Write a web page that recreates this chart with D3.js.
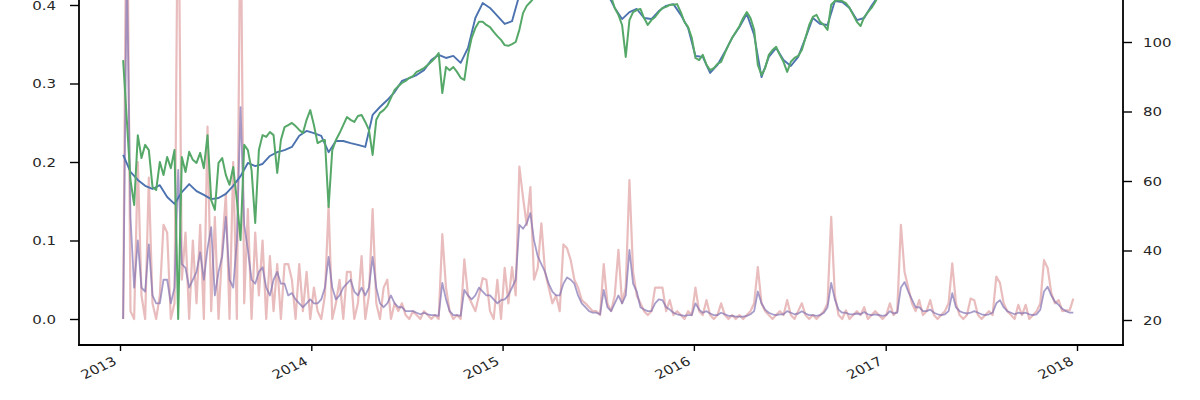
<!DOCTYPE html>
<html>
<head>
<meta charset="utf-8">
<script src="https://cdn.jsdelivr.net/npm/d3@7"></script>
<style>
  body { margin: 0; background: #fff; }
  svg { display: block; }
  .tick text { font-family: "DejaVu Sans", sans-serif; font-size: 12.5px; fill: #262626; }
</style>
</head>
<body>
<div id="chart"></div>
<script>
// weekly series start here; blue is sampled every 2 weeks
const startDate = new Date(Date.UTC(2013, 0, 7));

// price-like series (right axis)
const blueVals = [
  67.5, 62.6, 60.3, 58.6, 57.7, 58.8, 55.4, 53.4, 56.8, 59.1,
  57.1, 56.0, 54.8, 55.1, 56.3, 58.6, 61.4, 65.2, 64.3, 64.9,
  67.2, 68.3, 68.9, 69.8, 73.0, 74.4, 73.8, 73.0, 68.3, 71.5,
  71.5, 70.9, 70.4, 69.8, 79.0, 81.3, 83.3, 85.6, 88.8, 89.6,
  90.5, 91.9, 94.8, 96.3, 95.4, 96.0, 94.0, 98.3, 106.9, 111.2,
  109.8, 107.5, 105.2, 106.0, 113.5, 115, 117, 119, 120, 121,
  120, 119, 120, 118, 117, 116, 114, 109.8, 106.6, 108.6,
  109.5, 106.9, 106.6, 108.9, 110.4, 110.9, 107.8, 104.0, 96.0, 95.7,
  91.1, 93.4, 97.1, 101.2, 104.3, 108.1, 102.0, 89.9, 95.7, 98.3,
  94.8, 93.1, 95.7, 101.2, 106.9, 105.2, 104.9, 111.8, 111.5, 109.8,
  106.3, 106.9, 110.4, 113.5, 115, 117, 118, 120, 121, 122,
  121, 123, 124, 125, 124, 126, 127, 128, 127, 129,
  130, 131, 130, 132, 133, 134, 133, 135, 136, 137
];

const greenVals = [
  94.8, 77.6, 60.3, 53.1, 73.2, 66.6, 70.4, 68.9, 58.3, 57.4,
  65.5, 61.7, 66.9, 63.7, 68.9, 20.3, 66.9, 62.6, 68.4, 66.1,
  65.2, 68.1, 63.7, 73.2, 54.5, 51.7, 65.2, 66.6, 61.7, 58.9,
  64.0, 54.5, 43.0, 70.4, 68.9, 63.2, 47.9, 68.9, 73.2, 72.7,
  74.1, 73.2, 62.3, 71.8, 75.5, 76.1, 76.7, 75.8, 74.7, 73.8,
  77.6, 80.4, 76.1, 70.9, 71.5, 71.8, 52.5, 68.9, 71.8, 73.8,
  76.1, 78.4, 77.6, 77.0, 78.7, 79.0, 77.0, 74.7, 67.5, 77.6,
  79.6, 80.4, 81.6, 83.9, 86.2, 87.3, 88.2, 88.8, 89.7, 90.2,
  91.4, 91.9, 92.5, 93.4, 94.3, 95.4, 96.8, 85.3, 92.8, 91.9,
  92.8, 91.4, 89.7, 89.1, 96.3, 101.2, 104.0, 105.8, 105.8, 104.9,
  104.3, 102.9, 101.7, 100.6, 99.1, 98.9, 99.4, 100.0, 103.5, 108.3,
  110.4, 111.5, 112.7, 113.5,
  115, 117, 118, 120, 121, 122, 121, 120, 119, 121,
  122, 120, 118, 117, 116, 118, 117, 116, 115, 113,
  109.8, 107.8, 104.9, 95.7, 106.3, 108.6, 109.2, 109.5, 106.9, 104.9,
  106.3, 107.2, 108.6, 109.8, 110.1, 110.7, 110.7, 110.9, 108.6, 105.8,
  104.3, 101.2, 95.4, 94.8, 96.3, 93.4, 91.9, 92.5, 93.7, 94.3,
  96.8, 99.1, 101.2, 102.9, 104.6, 106.9, 108.6, 106.9, 103.5, 93.4,
  90.5, 92.5, 96.3, 97.7, 98.6, 96.3, 94.3, 91.4, 94.3, 95.4,
  96.0, 97.7, 101.2, 104.9, 107.2, 107.8, 105.8, 104.9, 103.5, 110.7,
  111.8, 112.1, 111.8, 111.2, 109.8, 107.8, 105.8, 104.6, 107.2, 108.6,
  109.8, 111.5,
  113.5, 115, 116, 118, 119, 120, 121, 121, 122, 123,
  122, 121, 122, 124, 125, 126, 125, 124, 126, 127,
  128, 127, 126, 128, 129, 130, 129, 128, 130, 131,
  132, 131, 130, 132, 133, 134, 133, 132, 134, 135,
  136, 135, 134, 136, 137, 138, 137, 136, 138, 139,
  140, 139, 138, 139
];

// ratio series (left axis)
const pinkVals = [
  0, 0.62, 0.01, 0, 0.2, 0.03, 0, 0.18, 0.02, 0,
  0.03, 0.12, 0.11, 0, 0.02, 0.6, 0.05, 0.11, 0, 0.1,
  0.02, 0.12, 0, 0.245, 0.01, 0.13, 0, 0.09, 0.16, 0,
  0.2, 0, 0.55, 0.02, 0.14, 0, 0.11, 0.03, 0.1, 0,
  0.08, 0.01, 0.07, 0, 0.07, 0.07, 0.05, 0, 0.07, 0.01,
  0.06, 0, 0.04, 0.01, 0, 0.03, 0.145, 0, 0.02, 0.05,
  0, 0.06, 0.06, 0, 0.02, 0.08, 0, 0.03, 0.14, 0.02,
  0, 0.04, 0.05, 0, 0.02, 0.01, 0.02, 0.005, 0, 0.01,
  0.005, 0, 0.01, 0.005, 0, 0.005, 0, 0.108, 0.04, 0.01,
  0, 0.005, 0, 0.076, 0.03, 0.02, 0.01, 0.03, 0.052, 0.05,
  0.01, 0, 0.05, 0, 0.065, 0.02, 0.066, 0.03, 0.194, 0.155,
  0.12, 0.168, 0.05, 0.065, 0.122, 0.06, 0.04, 0.02, 0.03, 0.01,
  0.095, 0.09, 0.075, 0.05, 0.04, 0.024, 0.02, 0.015, 0.01, 0.01,
  0.005, 0.07, 0.02, 0.01, 0.03, 0.088, 0.02, 0.04, 0.177, 0.06,
  0.03, 0.02, 0.01, 0.005, 0.01, 0.04, 0.04, 0.04, 0.01, 0.024,
  0.005, 0.01, 0.005, 0, 0.01, 0.005, 0.04, 0.01, 0.005, 0.024,
  0.005, 0, 0.005, 0.02, 0.005, 0, 0.005, 0, 0.005, 0,
  0.005, 0.01, 0.02, 0.066, 0.02, 0.01, 0.005, 0, 0.005, 0.01,
  0.005, 0.024, 0.005, 0, 0.01, 0.02, 0.005, 0, 0.005, 0,
  0.005, 0.01, 0.02, 0.13, 0.03, 0.005, 0, 0.011, 0, 0.005,
  0.01, 0.005, 0.015, 0, 0.005, 0.01, 0.005, 0, 0.005, 0.02,
  0.005, 0.01, 0.12, 0.06, 0.04, 0.02, 0.01, 0.024, 0.005, 0.01,
  0.024, 0.005, 0, 0.005, 0.01, 0.02, 0.071, 0.02, 0.005, 0,
  0.005, 0.026, 0.024, 0.005, 0, 0.005, 0.01, 0.005, 0.054, 0.046,
  0.02, 0.01, 0.005, 0, 0.018, 0.005, 0.018, 0, 0.005, 0.01,
  0.02, 0.075, 0.065, 0.033, 0.02, 0.024, 0.01, 0.011, 0.011, 0.026
];

const purpleVals = [
  0, 0.45, 0.13, 0.04, 0.1, 0.04, 0.035, 0.095, 0.03, 0.02,
  0.02, 0.05, 0.05, 0.02, 0.04, 0.19, 0.07, 0.065, 0.04, 0.05,
  0.06, 0.085, 0.05, 0.09, 0.117, 0.03, 0.06, 0.08, 0.13, 0.05,
  0.04, 0.1, 0.27, 0.12, 0.088, 0.05, 0.045, 0.06, 0.066, 0.04,
  0.03, 0.05, 0.06, 0.045, 0.045, 0.03, 0.033, 0.025, 0.02, 0.015,
  0.02, 0.025, 0.02, 0.02, 0.025, 0.04, 0.079, 0.04, 0.025, 0.03,
  0.04, 0.045, 0.05, 0.035, 0.03, 0.04, 0.03, 0.04, 0.079, 0.04,
  0.02, 0.015, 0.02, 0.03, 0.02, 0.015, 0.015, 0.01, 0.01, 0.01,
  0.008, 0.006, 0.008, 0.006, 0.005, 0.005, 0.004, 0.046, 0.025, 0.01,
  0.005, 0.005, 0.004, 0.037, 0.03, 0.025, 0.03, 0.04, 0.035, 0.03,
  0.03, 0.025, 0.02, 0.024, 0.025, 0.03, 0.04, 0.05, 0.12, 0.115,
  0.122, 0.135, 0.1, 0.08, 0.07, 0.06, 0.045, 0.035, 0.03, 0.03,
  0.045, 0.053, 0.05, 0.045, 0.03, 0.02, 0.015, 0.01, 0.008, 0.008,
  0.006, 0.037, 0.015, 0.01, 0.02, 0.03, 0.02, 0.03, 0.088, 0.045,
  0.035, 0.015, 0.012, 0.01, 0.01, 0.02, 0.025, 0.024, 0.015, 0.012,
  0.008, 0.006, 0.005, 0.004, 0.005, 0.005, 0.02, 0.012, 0.008, 0.01,
  0.007, 0.005, 0.005, 0.008, 0.006, 0.004, 0.004, 0.003, 0.003, 0.003,
  0.004, 0.006, 0.01, 0.035, 0.02, 0.012, 0.008, 0.006, 0.005, 0.006,
  0.006, 0.01, 0.008, 0.006, 0.007, 0.01, 0.007, 0.005, 0.005, 0.004,
  0.005, 0.008, 0.015, 0.046, 0.025, 0.012, 0.008, 0.008, 0.006, 0.006,
  0.007, 0.006, 0.009, 0.006, 0.005, 0.006, 0.005, 0.004, 0.005, 0.01,
  0.007, 0.008, 0.04, 0.047, 0.035, 0.025, 0.015, 0.015, 0.01, 0.01,
  0.012, 0.008, 0.006, 0.005, 0.006, 0.01, 0.033, 0.015, 0.01, 0.008,
  0.007, 0.008, 0.01, 0.008, 0.006, 0.005, 0.006, 0.008, 0.02, 0.024,
  0.015, 0.01, 0.008, 0.006, 0.008, 0.007, 0.008, 0.006, 0.005, 0.006,
  0.012, 0.035, 0.041, 0.03, 0.022, 0.018, 0.013, 0.01, 0.008, 0.008
];

const leftTicks = [0, 0.1, 0.2, 0.3, 0.4];
const rightTicks = [20, 40, 60, 80, 100];
const yearTicks = [2013, 2014, 2015, 2016, 2017, 2018].map(y => new Date(Date.UTC(y, 0, 1)));

const W = 1200, H = 400;
const frame = { left: 79, right: 1123, bottom: 345, top: -40 };
const textStretch = 1.2; // the reference is stretched sideways

const dated = (vals, stepWeeks) => vals.map((v, i) => ({ date: d3.utcDay.offset(startDate, i * 7 * stepWeeks), v: v }));

// scales
const x = d3.scaleUtc().domain([yearTicks[0], yearTicks[5]]).range([120, 1077]);
const yL = d3.scaleLinear().domain([0, 0.4]).range([319, 5]);
const yR = d3.scaleLinear().domain([20, 100]).range([320, 42]);

const svg = d3.select('#chart').append('svg').attr('width', W).attr('height', H);

const lineL = d3.line().x(d => x(d.date)).y(d => yL(d.v));
const lineR = d3.line().x(d => x(d.date)).y(d => yR(d.v));

const drawLine = (data, gen, color, width, opacity) => {
  svg.append('path')
    .datum(data)
    .attr('d', gen)
    .attr('fill', 'none')
    .attr('stroke', color)
    .attr('stroke-width', width)
    .attr('stroke-opacity', opacity)
    .attr('stroke-linejoin', 'round');
};

drawLine(dated(pinkVals, 1), lineL, '#C44E52', 2.2, 0.38);
drawLine(dated(purpleVals, 1), lineL, '#8172B2', 1.8, 0.7);
drawLine(dated(blueVals, 2), lineR, '#4C72B0', 1.9, 1);
drawLine(dated(greenVals, 1), lineR, '#55A868', 2, 1);

// left axis
const gl = svg.append('g')
  .attr('transform', 'translate(' + frame.left + ',0)')
  .call(d3.axisLeft(yL).tickValues(leftTicks).tickFormat(d3.format('.1f')).tickSize(9).tickSizeOuter(0));
gl.select('.domain').remove();
gl.selectAll('.tick line').attr('stroke', '#000').attr('stroke-width', 1.4);
gl.selectAll('.tick text').attr('x', -23 / textStretch).attr('transform', 'scale(' + textStretch + ',1)');

// right axis
const gr = svg.append('g')
  .attr('transform', 'translate(' + frame.right + ',0)')
  .call(d3.axisRight(yR).tickValues(rightTicks).tickSize(9).tickSizeOuter(0));
gr.select('.domain').remove();
gr.selectAll('.tick line').attr('stroke', '#000').attr('stroke-width', 1.4);
gr.selectAll('.tick text').attr('x', 20 / textStretch).attr('transform', 'scale(' + textStretch + ',1)');

// bottom axis with rotated labels
const gb = svg.append('g')
  .attr('transform', 'translate(0,' + frame.bottom + ')')
  .call(d3.axisBottom(x).tickValues(yearTicks).tickFormat(d3.utcFormat('%Y')).tickSize(6).tickSizeOuter(0));
gb.select('.domain').remove();
gb.selectAll('.tick line').attr('stroke', '#000').attr('stroke-width', 1.4);
gb.selectAll('.tick text')
  .attr('x', 0).attr('y', 0).attr('dy', '0.71em')
  .attr('text-anchor', 'end')
  .attr('transform', 'translate(-8,11) scale(' + textStretch + ',1) rotate(-30)');

// spines
const spine = (x1, y1, x2, y2) => svg.append('line')
  .attr('x1', x1).attr('y1', y1).attr('x2', x2).attr('y2', y2)
  .attr('stroke', '#000').attr('stroke-width', 1.8).attr('stroke-linecap', 'square');
spine(frame.left, frame.top, frame.left, frame.bottom);
spine(frame.right, frame.top, frame.right, frame.bottom);
spine(frame.left, frame.bottom, frame.right, frame.bottom);
</script>
</body>
</html>
